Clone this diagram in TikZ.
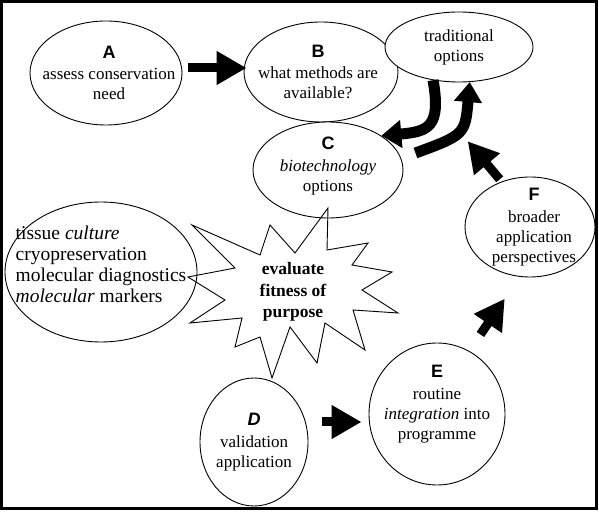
\documentclass[tikz,border=0pt]{standalone}
\usepackage{fontspec}
\setmainfont{Liberation Serif}
\setsansfont{Liberation Sans}
\usetikzlibrary{shapes.geometric, arrows.meta}

\newcommand{\stagelet}[1]{{\sffamily\bfseries\fontsize{18}{20}\selectfont #1}}

\begin{document}
\begin{tikzpicture}[x=1pt, y=1pt, line width=0.9pt,
  bubble/.style={ellipse, draw, fill=white, inner sep=0pt},
  bubbletext/.style={align=center, font=\fontsize{17}{20}\selectfont},
  blockarrow/.style={line width=9pt, -{Triangle[width=32pt,length=30pt]}},
  bentarrow/.style={line width=11pt, -{Triangle[width=27pt,length=20pt]}}]
  \useasboundingbox (0,0) rectangle (599,511);
  \fill[white] (0,0) rectangle (599,511);
  \draw[line width=3pt] (1.5,2.5) rectangle (596.5,509.5);
  % stage bubbles
  \node[bubble, minimum width=152pt, minimum height=104pt] (A) at (106,438) {};
  \node[bubbletext] (Atxt) at ([xshift=3pt]A) {\stagelet{A}\\[1.5pt] assess conservation\\ need};
  \node[bubble, minimum width=154pt, minimum height=100pt] (B) at (321,439) {};
  \node[bubbletext] (Btxt) at ([xshift=-3pt]B) {\stagelet{B}\\[1.5pt] what methods are\\ available?};
  \node[bubble, minimum width=148pt, minimum height=70pt] (trad) at (459,464) {};
  \node[bubbletext] (tradtxt) at (trad) {traditional\\ options};
  \node[bubble, minimum width=150pt, minimum height=96pt] (C) at (328,341) {};
  \node[bubbletext] (Ctxt) at ([yshift=4pt]C) {\stagelet{C}\\[1.5pt] \textit{biotechnology}\\ options};
  \node[bubble, minimum width=192pt, minimum height=140pt] (tissue) at (101,239) {};
  \node[align=left, font=\fontsize{19.5}{21}\selectfont] (tissuetxt) at ([yshift=8pt]tissue)
    {tissue \textit{culture}\\ cryopreservation\\ molecular diagnostics\\ \textit{molecular} markers};
  \node[bubble, minimum width=108pt, minimum height=128pt] (D) at (254,69) {};
  \node[bubbletext] (Dtxt) at (D) {\stagelet{\itshape D}\\[1.5pt] validation\\ application};
  \node[bubble, minimum width=136pt, minimum height=142pt] (E) at (437,97) {};
  \node[bubbletext] (Etxt) at ([yshift=10pt]E) {\stagelet{E}\\[1.5pt] routine\\ \textit{integration} into\\ programme};
  \node[bubble, minimum width=130pt, minimum height=100pt] (F) at (530,284) {};
  \node[bubbletext] (Ftxt) at ([xshift=4pt]F) {\stagelet{F}\\[1.5pt] broader\\ application\\ perspectives};
  % evaluation burst
  \draw (328,303) -- (327,261) -- (368,268) -- (352,246) -- (392,239) -- (362,221)
    -- (398,198) -- (353,201) -- (365,161) -- (325,188) -- (317,148) -- (290,184)
    -- (272,133) -- (260,174) -- (235,164) -- (242,193) -- (190,188) -- (225,211)
    -- (188,234) -- (235,243) -- (192,286) -- (260,256) -- (270,286) -- (295,258) -- cycle;
  \node[align=center, font=\bfseries\fontsize{17.5}{21.5}\selectfont] (fitness) at (293,219)
    {evaluate\\ fitness of\\ purpose};
  % block arrows
  \draw[blockarrow] ([xshift=6pt,yshift=5pt]A.east) -- ([xshift=3pt,yshift=4pt]B.west);
  \draw[blockarrow] ([xshift=14pt,yshift=20pt]D.east) -- ([xshift=-7pt,yshift=-8pt]E.west);
  \draw[blockarrow] ([xshift=-5pt,yshift=29pt]E.north east) -- ([xshift=21pt,yshift=-36pt]F.south west);
  \draw[blockarrow] ([xshift=16pt,yshift=12pt]F.north west) -- ++(-32,38);
  % exchange between options
  \draw[bentarrow] (trad.232) to[out=-80, in=5, looseness=1.6] (C.north east);
  \draw[bentarrow] ([xshift=12pt,yshift=17pt]C.east) to[out=20, in=-95, looseness=1.5] (trad.287);
\end{tikzpicture}
\end{document}
